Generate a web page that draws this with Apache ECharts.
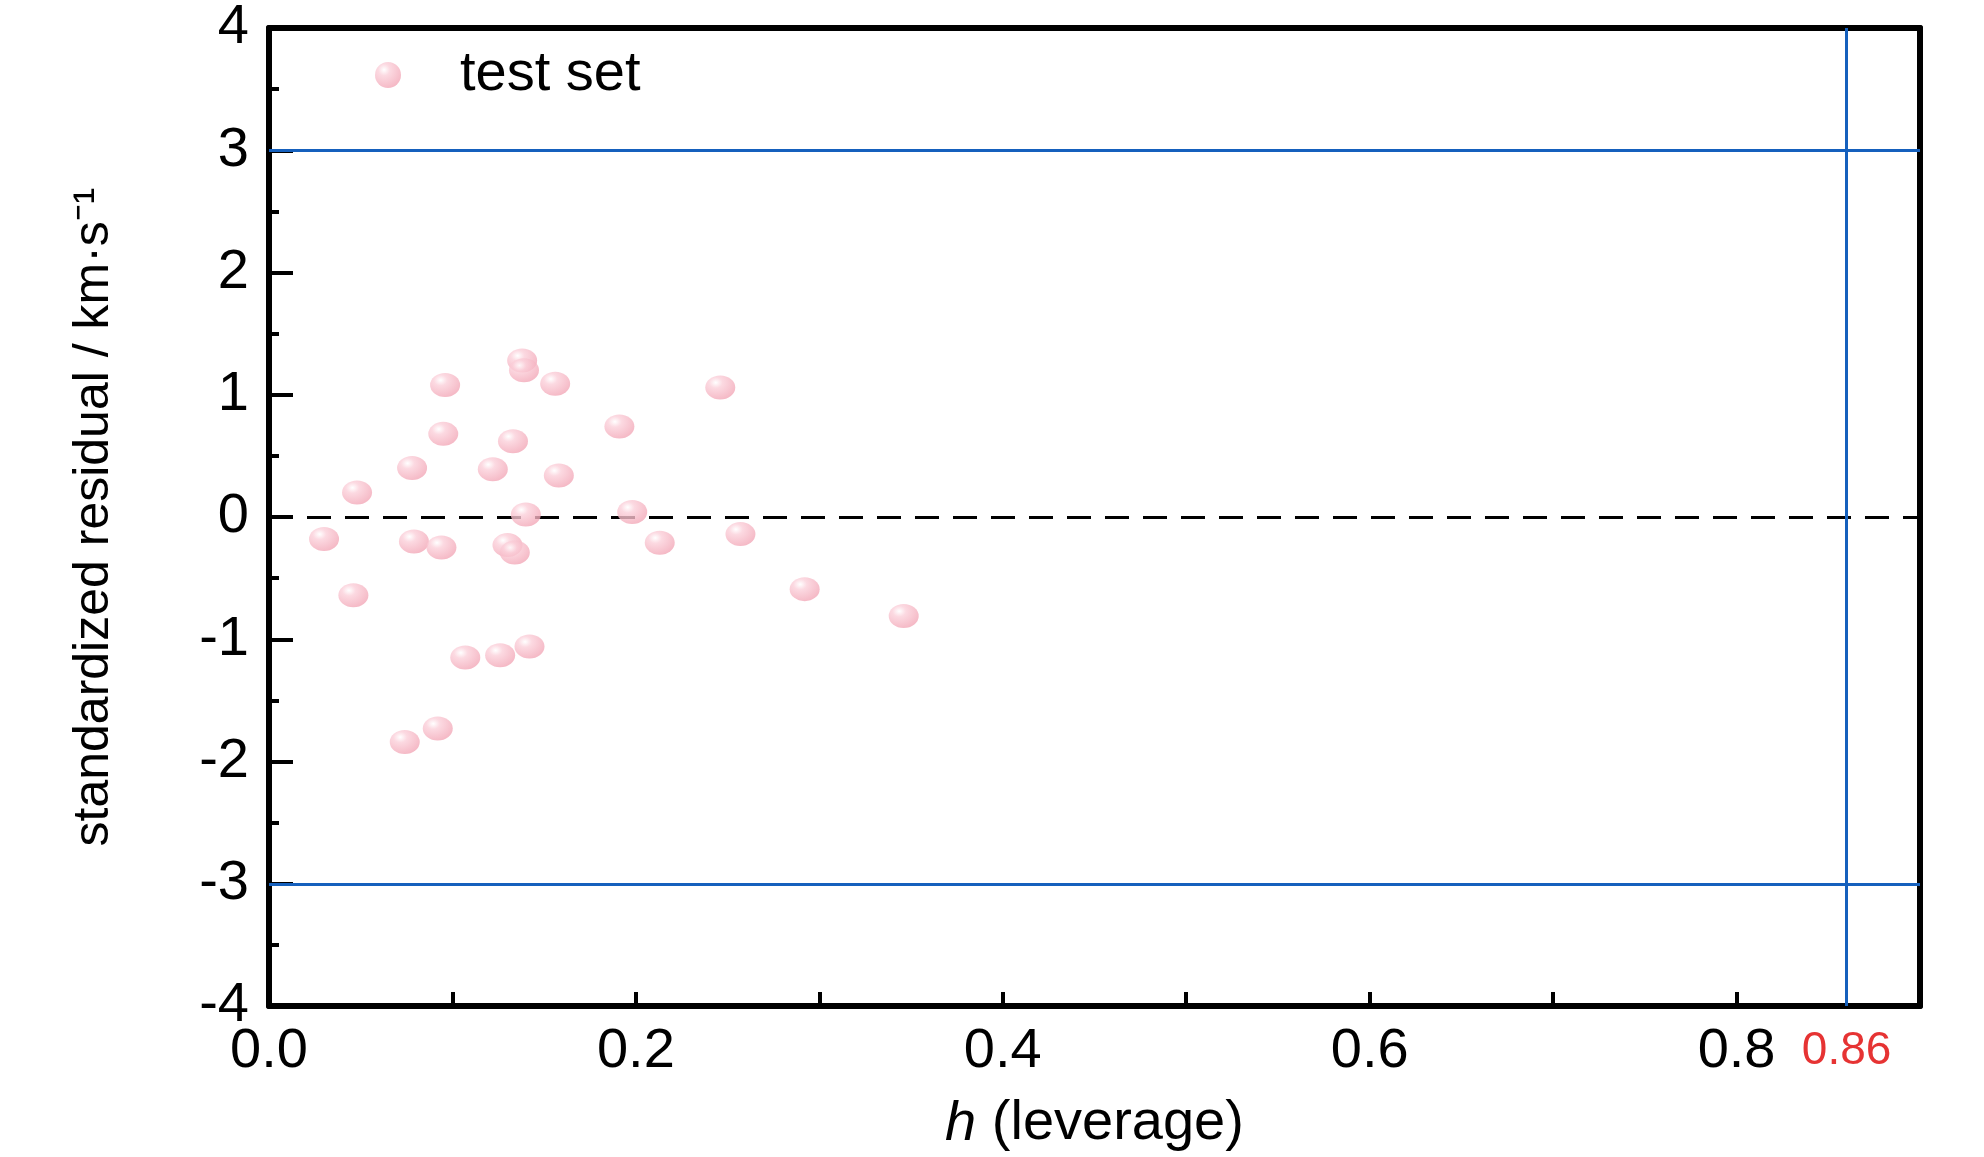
<!DOCTYPE html>
<html><head><meta charset="utf-8">
<script src="https://cdn.jsdelivr.net/npm/echarts@6/dist/echarts.min.js"></script>
<style>html,body{margin:0;background:#fff}#c{width:1984px;height:1157px}</style>
</head><body><div id="c"></div>
<script>
var leverage = [0.030,0.046,0.048,0.074,0.078,0.079,0.092,0.094,0.095,0.096,0.107,0.122,0.126,0.130,0.133,0.134,0.138,0.139,0.140,0.142,0.156,0.158,0.191,0.198,0.213,0.246,0.257,0.292,0.346];
var residual = [-0.18,-0.64,0.20,-1.84,0.40,-0.20,-1.73,-0.25,0.68,1.08,-1.15,0.39,-1.13,-0.23,0.62,-0.29,1.28,1.20,0.02,-1.06,1.09,0.34,0.74,0.04,-0.21,1.06,-0.14,-0.59,-0.81];
var hStar = 0.86;
var limits = [3, -3];

var font = "'Liberation Sans Narrow','Liberation Sans',Arial,sans-serif";
var points = leverage.map(function (x, i) { return [x, residual[i]]; });
var sphere = new echarts.graphic.RadialGradient(0.35, 0.3, 0.75, [
  { offset: 0, color: '#ffffff' },
  { offset: 0.3, color: '#fbd0da' },
  { offset: 1, color: '#f2a6b6' }
]);
var frameAxis = {
  type: 'value', axisLine: { onZero: false, lineStyle: { color: '#000', width: 6 } },
  axisTick: { show: false }, axisLabel: { show: false }, splitLine: { show: false }
};

var myChart = echarts.init(document.getElementById('c'));
myChart.setOption({
  animation: false,
  grid: { left: 269, right: 64, top: 23, bottom: 145 },
  legend: {
    left: 370, top: 42, itemWidth: 34, itemHeight: 26, itemGap: 10,
    textStyle: { fontFamily: font, fontSize: 56, color: '#000', padding: [0, 0, 0, 50] },
    data: ['test set']
  },
  xAxis: [{
    type: 'value', min: 0, max: 0.9, interval: 0.1,
    name: '{i|h} (leverage)', nameLocation: 'middle', nameGap: 90,
    nameTextStyle: { fontFamily: font, fontSize: 56, color: '#000',
      rich: { i: { fontStyle: 'italic', fontFamily: font, fontSize: 56, color: '#000' } } },
    axisLine: { onZero: false, lineStyle: { color: '#000', width: 6 } },
    axisTick: { inside: true, length: 14, lineStyle: { width: 4, color: '#000' } },
    axisLabel: { fontFamily: font, fontSize: 56, color: '#000', margin: 18,
      formatter: function (v) { return Math.round(v * 10) % 2 === 0 && v < 0.85 ? v.toFixed(1) : ''; } },
    splitLine: { show: false }
  }, Object.assign({ position: 'top', min: 0, max: 0.9 }, frameAxis)],
  yAxis: [{
    type: 'value', min: -4, max: 4, interval: 1,
    name: 'standardized residual / km·s⁻¹', nameLocation: 'middle', nameGap: 150,
    nameTextStyle: { fontFamily: "'Liberation Sans',Arial,sans-serif", fontSize: 50, color: '#000' },
    axisLine: { onZero: false, lineStyle: { color: '#000', width: 6 } },
    axisTick: { inside: true, length: 24, lineStyle: { width: 4, color: '#000' } },
    minorTick: { show: true, splitNumber: 2, length: 10, lineStyle: { width: 4, color: '#000' } },
    axisLabel: { fontFamily: font, fontSize: 56, color: '#000', margin: 20 },
    splitLine: { show: false }
  }, Object.assign({ position: 'right', min: -4, max: 4 }, frameAxis)],
  series: [
    {
      name: 'test set', type: 'scatter', symbolSize: [30, 24], z: 5,
      itemStyle: { color: sphere },
      data: points,
      markLine: {
        silent: true, symbol: 'none', label: { show: false }, z: 3,
        data: [
          { yAxis: 0, lineStyle: { color: '#000', width: 3, type: [24, 14] } },
          { yAxis: limits[0], lineStyle: { color: '#1560bd', width: 3, type: 'solid' } },
          { yAxis: limits[1], lineStyle: { color: '#1560bd', width: 3, type: 'solid' } },
          { xAxis: hStar, lineStyle: { color: '#1560bd', width: 3, type: 'solid' } }
        ]
      }
    },
    {
      type: 'scatter', silent: true, symbolSize: 0, data: [[hStar, -4]],
      label: { show: true, position: 'bottom', distance: 22, formatter: String(hStar),
        fontFamily: font, fontSize: 46, color: '#e00000' }
    }
  ]
});
</script></body></html>
